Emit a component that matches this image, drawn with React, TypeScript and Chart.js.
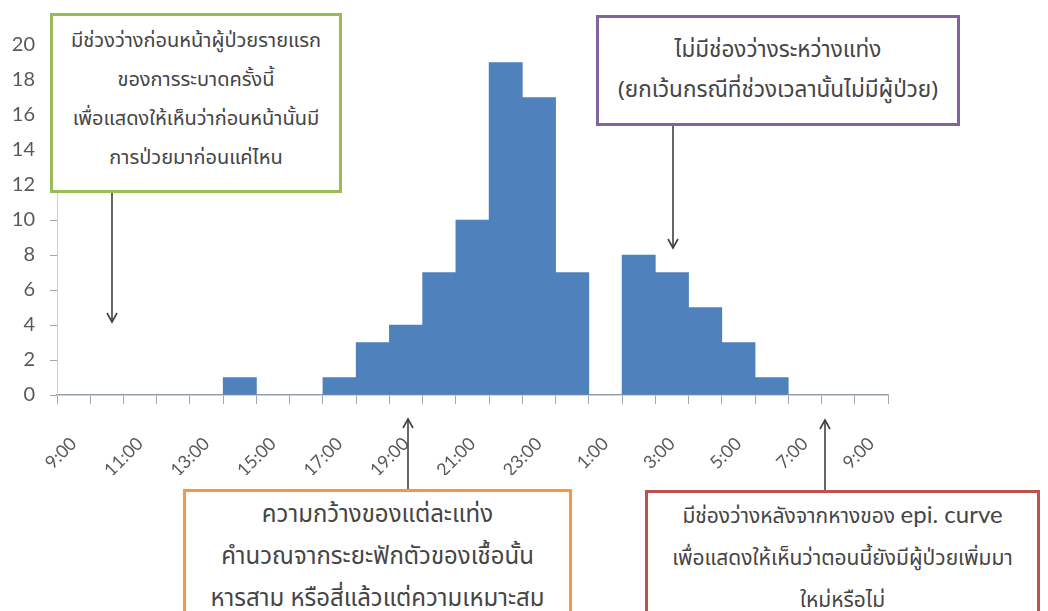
import React, { useEffect, useRef } from "react";
import { Chart, registerables } from "chart.js";

Chart.register(...registerables);

// Hourly bins of onset time, 9:00 through 9:00 the next morning
const hourLabels = [
  "9:00", "10:00", "11:00", "12:00", "13:00", "14:00", "15:00", "16:00",
  "17:00", "18:00", "19:00", "20:00", "21:00", "22:00", "23:00", "0:00",
  "1:00", "2:00", "3:00", "4:00", "5:00", "6:00", "7:00", "8:00", "9:00",
];

// Number of cases per hour
const caseCounts = [
  0, 0, 0, 0, 0, 1, 0, 0,
  1, 3, 4, 7, 10, 19, 17, 7,
  0, 8, 7, 5, 3, 1, 0, 0, 0,
];

const yMin = 0;
const yMax = 20;
const yStep = 2;

const greenNote = [
  "มีช่วงว่างก่อนหน้าผู้ป่วยรายแรก",
  "ของการระบาดครั้งนี้",
  "เพื่อแสดงให้เห็นว่าก่อนหน้านั้นมี",
  "การป่วยมาก่อนแค่ไหน",
];
const purpleNote = [
  "ไม่มีช่องว่างระหว่างแท่ง",
  "(ยกเว้นกรณีที่ช่วงเวลานั้นไม่มีผู้ป่วย)",
];
const orangeNote = [
  "ความกว้างของแต่ละแท่ง",
  "คำนวณจากระยะฟักตัวของเชื้อนั้น",
  "หารสาม หรือสี่แล้วแต่ความเหมาะสม",
];

const AXIS_GRAY = "#a6a6a6";
const LABEL_GRAY = "#595959";
const NOTE_TEXT = "#454545";
const THAI_FONT = "'Noto Sans Thai', 'Noto Sans Thai UI', 'Noto Sans', 'DejaVu Sans', sans-serif";
const LATIN_FONT = "Lato, 'Open Sans', sans-serif";

type NoteProps = {
  left: number;
  top: number;
  width: number;
  height: number;
  border: string;
  padTop: number;
  lineHeight: number;
  fontSize: number;
  children: React.ReactNode;
};

function Note({ left, top, width, height, border, padTop, lineHeight, fontSize, children }: NoteProps) {
  return (
    <div
      style={{
        position: "absolute",
        left,
        top,
        width,
        height,
        boxSizing: "border-box",
        border: `3px solid ${border}`,
        background: "#ffffff",
        paddingTop: padTop,
        textAlign: "center",
        fontFamily: THAI_FONT,
        fontSize,
        lineHeight: `${lineHeight}px`,
        color: NOTE_TEXT,
        whiteSpace: "nowrap",
      }}
    >
      {children}
    </div>
  );
}

function Arrow({ x, from, to }: { x: number; from: number; to: number }) {
  const dir = to > from ? 1 : -1;
  return (
    <g stroke="#404040" strokeWidth={1.6} fill="none">
      <line x1={x} y1={from} x2={x} y2={to} />
      <polyline points={`${x - 5},${to - dir * 9} ${x},${to} ${x + 5},${to - dir * 9}`} />
    </g>
  );
}

export default function App() {
  const canvasRef = useRef<HTMLCanvasElement | null>(null);

  useEffect(() => {
    if (!canvasRef.current) return;
    const chart = new Chart(canvasRef.current, {
      type: "bar",
      data: {
        labels: hourLabels,
        datasets: [
          {
            data: caseCounts,
            backgroundColor: "#4f81bd",
            borderWidth: 0,
            barPercentage: 1,
            categoryPercentage: 1,
          },
        ],
      },
      options: {
        animation: false,
        responsive: true,
        maintainAspectRatio: false,
        layout: { padding: { left: 0, top: 45, right: 160, bottom: 136 } },
        plugins: {
          legend: { display: false },
          tooltip: { enabled: false },
        },
        scales: {
          x: {
            type: "category",
            offset: true,
            grid: {
              offset: true,
              drawOnChartArea: false,
              drawTicks: true,
              tickLength: 9,
              color: AXIS_GRAY,
            },
            border: { display: true, color: AXIS_GRAY, width: 1.5 },
            ticks: {
              autoSkip: false,
              minRotation: 45,
              maxRotation: 45,
              padding: 29,
              color: LABEL_GRAY,
              font: { family: LATIN_FONT, size: 18 },
              callback: (_v, i) => (i % 2 === 0 ? hourLabels[i] : ""),
            },
            afterFit: (scale) => {
              scale.height = 80;
            },
          },
          y: {
            min: yMin,
            max: yMax,
            grid: {
              drawOnChartArea: false,
              drawTicks: true,
              tickLength: 7,
              color: AXIS_GRAY,
            },
            border: { display: true, color: "#d0d0d0", width: 1 },
            ticks: {
              stepSize: yStep,
              padding: 15,
              color: LABEL_GRAY,
              font: { family: LATIN_FONT, size: 20 },
            },
            afterFit: (scale) => {
              scale.width = 57;
            },
          },
        },
      },
    });
    return () => chart.destroy();
  }, []);

  return (
    <div
      style={{
        position: "fixed",
        left: 0,
        top: 0,
        width: 1048,
        height: 611,
        overflow: "hidden",
        background: "#ffffff",
      }}
    >
      <div style={{ position: "absolute", left: 0, top: 0, width: 1048, height: 611 }}>
        <canvas ref={canvasRef} />
      </div>

      <svg
        width={1048}
        height={611}
        style={{ position: "absolute", left: 0, top: 0, pointerEvents: "none" }}
      >
        <Arrow x={112} from={193} to={322} />
        <Arrow x={673} from={126} to={248} />
        <Arrow x={408} from={490} to={419} />
        <Arrow x={825} from={490} to={420} />
      </svg>

      <Note left={50} top={13} width={292} height={180} border="#9bbb59" padTop={6} lineHeight={39} fontSize={20}>
        {greenNote.map((t) => (
          <div key={t}>{t}</div>
        ))}
      </Note>

      <Note left={596} top={15} width={364} height={111} border="#8064a2" padTop={12} lineHeight={40} fontSize={22.5}>
        {purpleNote.map((t) => (
          <div key={t}>{t}</div>
        ))}
      </Note>

      <Note left={183} top={489} width={389} height={128} border="#f79646" padTop={2} lineHeight={42} fontSize={24}>
        {orangeNote.map((t) => (
          <div key={t}>{t}</div>
        ))}
      </Note>

      <Note left={645} top={490} width={395} height={125} border="#c0504d" padTop={0} lineHeight={42} fontSize={21}>
        <div>
          มีช่องว่างหลังจากหางของ{" "}
          <span style={{ fontFamily: LATIN_FONT, fontSize: 24 }}>epi. curve</span>
        </div>
        <div>เพื่อแสดงให้เห็นว่าตอนนี้ยังมีผู้ป่วยเพิ่มมา</div>
        <div>ใหม่หรือไม่</div>
      </Note>
    </div>
  );
}
